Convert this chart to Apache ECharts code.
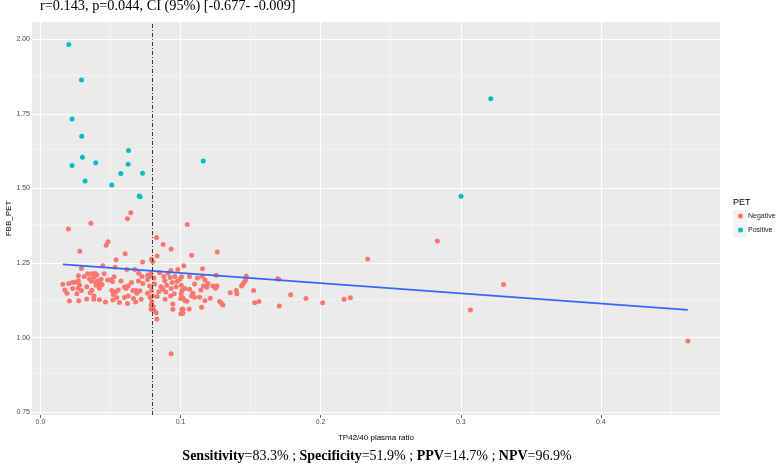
<!DOCTYPE html>
<html>
<head>
<meta charset="utf-8">
<script src="https://cdn.jsdelivr.net/npm/echarts@6/dist/echarts.min.js"></script>
<style>
html,body{margin:0;padding:0;background:#fff;}
#chart{width:778px;height:465px;}
</style>
</head>
<body>
<div id="chart"></div>
<script>
// ---- data ----
const titleText = 'r=0.143, p=0.044, CI (95%) [-0.677- -0.009]';
const xTicks = [0, 0.1, 0.2, 0.3, 0.4];
const yTicks = [0.75, 1.00, 1.25, 1.50, 1.75, 2.00];
const xMinor = [0.05, 0.15, 0.25, 0.35, 0.45];
const yMinor = [0.875, 1.125, 1.375, 1.625, 1.875];
const xRange = [-0.006, 0.485];
const yRange = [0.741, 2.058];
const cutoff = 0.08;
const fitLine = [[0.016, 1.246], [0.462, 1.093]];

const positivePoints = [
  [0.0202, 1.983], [0.0293, 1.864], [0.0226, 1.733], [0.0295, 1.675], [0.0300, 1.605],
  [0.0226, 1.577], [0.0395, 1.586], [0.0629, 1.627], [0.0626, 1.581], [0.0319, 1.525],
  [0.0574, 1.550], [0.0729, 1.551], [0.0509, 1.512], [0.0705, 1.475], [0.0712, 1.472],
  [0.1162, 1.592], [0.3214, 1.801], [0.3002, 1.474]
];

const negativePoints = [
  // upper scattered
  [0.0645, 1.419], [0.0621, 1.399], [0.0360, 1.384], [0.0200, 1.364], [0.1048, 1.379],
  [0.0483, 1.322], [0.0469, 1.310], [0.0281, 1.290], [0.0605, 1.281], [0.0540, 1.261],
  [0.0876, 1.312], [0.0933, 1.297], [0.0829, 1.336], [0.0833, 1.274], [0.0802, 1.255],
  [0.0793, 1.263], [0.0729, 1.254], [0.1079, 1.276], [0.1262, 1.287], [0.0931, 1.225],
  [0.0981, 1.229], [0.1024, 1.241],
  // left cluster
  [0.0293, 1.232], [0.0445, 1.241], [0.0533, 1.236], [0.0617, 1.229], [0.0674, 1.229],
  [0.0271, 1.208], [0.0338, 1.214], [0.0369, 1.214], [0.0390, 1.215], [0.0402, 1.210],
  [0.0364, 1.189], [0.0407, 1.190], [0.0421, 1.182], [0.0433, 1.196], [0.0502, 1.194],
  [0.0514, 1.188], [0.0526, 1.204], [0.0702, 1.216], [0.0726, 1.205], [0.0767, 1.209],
  [0.0731, 1.182], [0.0786, 1.207],
  [0.0160, 1.179], [0.0202, 1.182], [0.0229, 1.185], [0.0271, 1.191], [0.0279, 1.177],
  [0.0269, 1.166], [0.0174, 1.160], [0.0293, 1.158], [0.0331, 1.171], [0.0367, 1.159],
  [0.0398, 1.176], [0.0421, 1.166], [0.0510, 1.158], [0.0540, 1.154], [0.0555, 1.160],
  [0.0612, 1.166], [0.0626, 1.173], [0.0660, 1.158], [0.0683, 1.158], [0.0710, 1.157],
  [0.0779, 1.173], [0.0793, 1.158],
  [0.0190, 1.149], [0.0260, 1.147], [0.0355, 1.151], [0.0383, 1.140], [0.0421, 1.127],
  [0.0381, 1.129], [0.0207, 1.123], [0.0274, 1.124], [0.0464, 1.120], [0.0517, 1.126],
  [0.0545, 1.135], [0.0564, 1.118], [0.0621, 1.115], [0.0626, 1.140], [0.0664, 1.131],
  [0.0719, 1.129], [0.0688, 1.149], [0.0764, 1.149], [0.0783, 1.135],
  [0.0350, 1.198], [0.0381, 1.203], [0.0395, 1.186], [0.0440, 1.178], [0.0312, 1.205],
  [0.0250, 1.186], [0.0455, 1.214], [0.0480, 1.193], [0.0575, 1.190], [0.0600, 1.170],
  [0.0650, 1.185], [0.0700, 1.190], [0.0765, 1.195], [0.0520, 1.145], [0.0330, 1.130],
  [0.0230, 1.165], [0.0600, 1.135], [0.0680, 1.120],
  // around cutoff
  [0.0790, 1.109], [0.0790, 1.095], [0.0810, 1.091], [0.0826, 1.084], [0.0831, 1.063],
  [0.0790, 1.215], [0.0810, 1.200], [0.0815, 1.180], [0.0800, 1.140], [0.0795, 1.120],
  [0.0805, 1.105], [0.0850, 1.218], [0.0880, 1.205],
  // right of cutoff
  [0.0833, 1.138], [0.0845, 1.154], [0.0874, 1.162], [0.0860, 1.171], [0.0888, 1.191],
  [0.0902, 1.176], [0.0895, 1.153], [0.0890, 1.129], [0.0910, 1.216], [0.0926, 1.202],
  [0.0933, 1.165], [0.0929, 1.140], [0.0945, 1.113], [0.0955, 1.147], [0.0969, 1.171],
  [0.0974, 1.188], [0.0995, 1.196], [0.1005, 1.176], [0.1010, 1.158], [0.1000, 1.131],
  [0.1010, 1.095], [0.1017, 1.082], [0.1031, 1.125], [0.1045, 1.122], [0.1062, 1.096],
  [0.1079, 1.140], [0.0940, 1.185], [0.0960, 1.205], [0.1030, 1.165], [0.1100, 1.180],
  [0.1157, 1.231], [0.1255, 1.209], [0.1155, 1.206], [0.1064, 1.205], [0.1121, 1.200],
  [0.1007, 1.204], [0.1174, 1.193], [0.1195, 1.182], [0.1231, 1.173], [0.1250, 1.166],
  [0.1260, 1.173], [0.1188, 1.169], [0.1145, 1.160], [0.1164, 1.173], [0.1088, 1.149],
  [0.1100, 1.136], [0.1136, 1.136], [0.1064, 1.162], [0.1005, 1.147], [0.1017, 1.133],
  [0.1212, 1.132], [0.1174, 1.124], [0.1279, 1.121], [0.1293, 1.115], [0.1302, 1.110],
  [0.1150, 1.102], [0.1017, 1.095], [0.1002, 1.080], [0.0945, 1.095],
  [0.1355, 1.151], [0.1398, 1.158], [0.1402, 1.147], [0.1436, 1.173], [0.1445, 1.180],
  [0.1455, 1.187], [0.1464, 1.193], [0.1469, 1.207], [0.1521, 1.158], [0.1529, 1.117],
  [0.1560, 1.121], [0.1693, 1.198], [0.1702, 1.196], [0.1786, 1.144], [0.1895, 1.131],
  [0.1705, 1.106], [0.2014, 1.117],
  // outliers
  [0.2833, 1.324], [0.2336, 1.264], [0.3305, 1.178], [0.3069, 1.093], [0.2167, 1.129],
  [0.2212, 1.134], [0.4621, 0.989], [0.0933, 0.946]
];

// ---- chart ----
const chart = echarts.init(document.getElementById('chart'), null, {renderer: 'canvas'});
const sans = 'Liberation Sans, Arial, sans-serif';
const serif = 'Liberation Serif, Times New Roman, serif';

function gridLines(values, axisKey, width, color) {
  return values.map(v => ({[axisKey]: v, lineStyle: {width: width, color: color, type: 'solid', opacity: 1}}));
}

const option = {
  animation: false,
  backgroundColor: '#ffffff',
  title: {
    text: titleText,
    left: 40, top: -1, padding: 0,
    textStyle: {fontFamily: serif, fontSize: 14.3, fontWeight: 'normal', color: '#000'}
  },
  grid: {
    left: 32, right: 58, top: 22, bottom: 50,
    containLabel: false, outerBoundsMode: 'none',
    show: true, backgroundColor: '#EBEBEB', borderWidth: 0
  },
  legend: {
    data: ['Negative', 'Positive'],
    orient: 'vertical',
    left: 738, top: 211, z: 10,
    itemWidth: 5, itemHeight: 5, itemGap: 4,
    icon: 'circle',
    padding: 0,
    textStyle: {fontFamily: sans, fontSize: 7, color: '#1a1a1a', lineHeight: 10}
  },
  xAxis: {
    type: 'value', min: xRange[0], max: xRange[1],
    name: 'TP42/40 plasma ratio', nameLocation: 'middle', nameGap: 19, nameMoveOverlap: false,
    nameTextStyle: {fontFamily: sans, fontSize: 8, color: '#000'},
    axisLine: {show: false},
    axisTick: {show: true, length: 3, customValues: xTicks, lineStyle: {color: '#333', width: 0.8}},
    axisLabel: {customValues: xTicks, margin: 4, fontFamily: sans, fontSize: 7, color: '#4D4D4D',
      formatter: v => v.toFixed(1)},
    splitLine: {show: false}
  },
  yAxis: {
    type: 'value', min: yRange[0], max: yRange[1],
    name: 'FBB_PET', nameLocation: 'middle', nameGap: 19, nameRotate: 90, nameMoveOverlap: false,
    nameTextStyle: {fontFamily: sans, fontSize: 8, color: '#000'},
    axisLine: {show: false},
    axisTick: {show: true, length: 3, customValues: yTicks, lineStyle: {color: '#333', width: 0.8}},
    axisLabel: {customValues: yTicks, margin: 2, fontFamily: sans, fontSize: 7, color: '#4D4D4D',
      formatter: v => v.toFixed(2)},
    splitLine: {show: false}
  },
  graphic: [
    {type: 'text', left: 733, top: 198, z: 5, style: {text: 'PET', font: '9px ' + sans, fill: '#000'}},
    {type: 'rect', z: 1, shape: {x: 733, y: 210, width: 14, height: 13.5}, style: {fill: '#F2F2F2'}},
    {type: 'rect', z: 1, shape: {x: 733, y: 224, width: 14, height: 13.5}, style: {fill: '#F2F2F2'}},
    {type: 'text', x: 377, y: 456, z: 5,
      style: {
        text: '{b|Sensitivity}=83.3% ; {b|Specificity}=51.9% ; {b|PPV}=14.7% ; {b|NPV}=96.9%',
        align: 'center', verticalAlign: 'middle',
        font: '14px ' + serif, fill: '#000',
        rich: {b: {fontFamily: serif, fontSize: 14, fontWeight: 'bold', fill: '#000'}}
      }}
  ],
  series: [
    {
      name: 'gridMinor', type: 'line', data: [], z: 1, silent: true,
      markLine: {
        z: 1, silent: true, symbol: ['none', 'none'], label: {show: false},
        emphasis: {disabled: true},
        lineStyle: {color: '#F6F6F6', type: 'solid', width: 0.6},
        data: gridLines(xMinor, 'xAxis', 0.6, '#F6F6F6').concat(gridLines(yMinor, 'yAxis', 0.6, '#F6F6F6'))
      }
    },
    {
      name: 'gridMajor', type: 'line', data: [], z: 1, silent: true,
      markLine: {
        z: 1, silent: true, symbol: ['none', 'none'], label: {show: false},
        emphasis: {disabled: true},
        lineStyle: {color: '#FFFFFF', type: 'solid', width: 1.2},
        data: gridLines(xTicks, 'xAxis', 1.2, '#FFFFFF').concat(gridLines(yTicks, 'yAxis', 1.2, '#FFFFFF'))
      }
    },
    {
      name: 'Negative', type: 'scatter', data: negativePoints, z: 3,
      symbolSize: 5, itemStyle: {color: '#F8766D', opacity: 1}
    },
    {
      name: 'Positive', type: 'scatter', data: positivePoints, z: 3,
      symbolSize: 5, itemStyle: {color: '#00BFC4', opacity: 1}
    },
    {
      name: 'fit', type: 'line', data: fitLine, z: 4, symbol: 'none', silent: true,
      lineStyle: {color: '#3366FF', width: 1.8}
    },
    {
      name: 'cutoff', type: 'line', data: [], z: 5, silent: true,
      markLine: {
        z: 5, silent: true, symbol: ['none', 'none'], label: {show: false},
        lineStyle: {color: '#222', type: [4, 2, 1, 2], width: 0.9},
        data: [{xAxis: cutoff}]
      }
    }
  ]
};
chart.setOption(option);
</script>
</body>
</html>
